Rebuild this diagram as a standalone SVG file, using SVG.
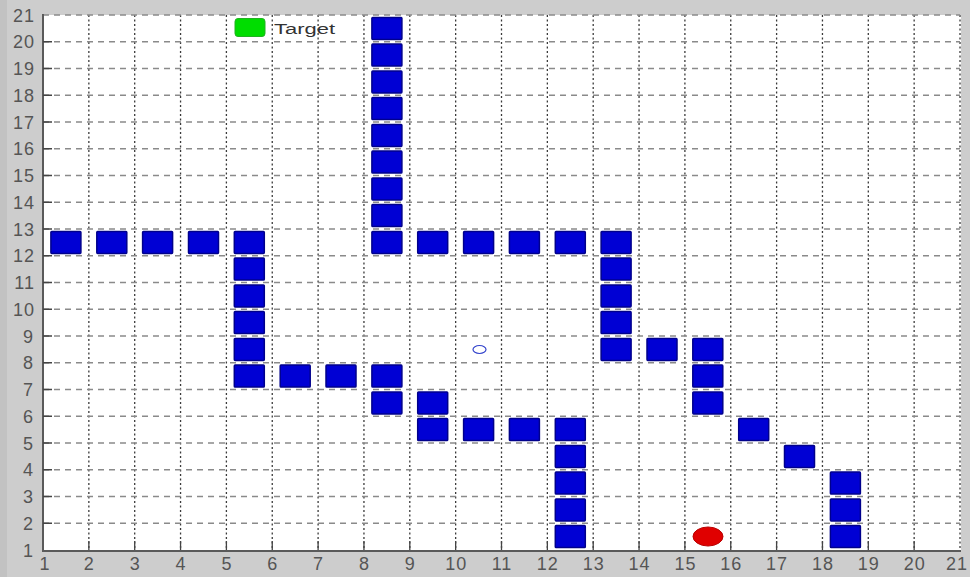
<svg xmlns="http://www.w3.org/2000/svg" width="970" height="577" viewBox="0 0 970 577">
<style>
.vg{stroke:#3a3a3a;stroke-width:1.3;stroke-dasharray:2,2.5;fill:none}
.hg{stroke:#8a8a8a;stroke-width:1.3;stroke-dasharray:6,5;fill:none}
.spine{stroke:#5a5a5a;stroke-width:2;fill:none}
.tick{stroke:#444;stroke-width:1.3}
.lbl{font-family:"Liberation Sans",Arial,sans-serif;font-size:18px;fill:#555555;letter-spacing:1px}
.xl{text-anchor:middle}
.yl{text-anchor:end}
.blk{fill:#0000d4;stroke:#00008c;stroke-width:1.5}
</style>
<defs>
<rect id="b" class="blk" x="-15" y="-11" width="30" height="22" rx="0.8"/>
</defs>
<rect x="0" y="0" width="970" height="577" fill="#cdcdcd"/>
<rect x="0" y="0" width="7" height="577" fill="#c2c2c2"/>
<rect x="43" y="15" width="918" height="535" fill="#ffffff"/>
<g id="grid">
<path class="vg" d="M88.85 15V550M134.7 15V550M180.55 15V550M226.4 15V550M272.25 15V550M318.1 15V550M363.95 15V550M409.8 15V550M455.65 15V550M501.5 15V550M547.35 15V550M593.2 15V550M639.05 15V550M684.9 15V550M730.75 15V550M776.6 15V550M822.45 15V550M868.3 15V550M914.15 15V550M960 15V550"/>
<path class="hg" d="M43 523.25H960M43 496.5H960M43 469.75H960M43 443H960M43 416.25H960M43 389.5H960M43 362.75H960M43 336H960M43 309.25H960M43 282.5H960M43 255.75H960M43 229H960M43 202.25H960M43 175.5H960M43 148.75H960M43 122H960M43 95.25H960M43 68.5H960M43 41.75H960M43 15H960"/>
</g>
<g id="axes">
<path class="spine" d="M43 14V551H961"/>
<path class="tick" d="M88.85 550v-9M134.7 550v-9M180.55 550v-9M226.4 550v-9M272.25 550v-9M318.1 550v-9M363.95 550v-9M409.8 550v-9M455.65 550v-9M501.5 550v-9M547.35 550v-9M593.2 550v-9M639.05 550v-9M684.9 550v-9M730.75 550v-9M776.6 550v-9M822.45 550v-9M868.3 550v-9M914.15 550v-9M43 523.25h9M43 496.5h9M43 469.75h9M43 443h9M43 416.25h9M43 389.5h9M43 362.75h9M43 336h9M43 309.25h9M43 282.5h9M43 255.75h9M43 229h9M43 202.25h9M43 175.5h9M43 148.75h9M43 122h9M43 95.25h9M43 68.5h9M43 41.75h9"/>
</g>
<g id="xlabels" class="lbl xl">
<text x="45" y="570">1</text><text x="89.35" y="570">2</text><text x="135.2" y="570">3</text><text x="181.05" y="570">4</text><text x="226.9" y="570">5</text><text x="272.75" y="570">6</text><text x="318.6" y="570">7</text><text x="364.45" y="570">8</text><text x="410.3" y="570">9</text><text x="456.15" y="570">10</text><text x="502" y="570">11</text><text x="547.85" y="570">12</text><text x="593.7" y="570">13</text><text x="639.55" y="570">14</text><text x="685.4" y="570">15</text><text x="731.25" y="570">16</text><text x="777.1" y="570">17</text><text x="822.95" y="570">18</text><text x="868.8" y="570">19</text><text x="914.65" y="570">20</text><text x="957" y="570">21</text>
</g>
<g id="ylabels" class="lbl yl">
<text x="34" y="556.5">1</text><text x="34" y="529.75">2</text><text x="34" y="503">3</text><text x="34" y="476.25">4</text><text x="34" y="449.5">5</text><text x="34" y="422.75">6</text><text x="34" y="396">7</text><text x="34" y="369.25">8</text><text x="34" y="342.5">9</text><text x="35" y="315.75">10</text><text x="35" y="289">11</text><text x="35" y="262.25">12</text><text x="35" y="235.5">13</text><text x="35" y="208.75">14</text><text x="35" y="182">15</text><text x="35" y="155.25">16</text><text x="35" y="128.5">17</text><text x="35" y="101.75">18</text><text x="35" y="75">19</text><text x="35" y="48.25">20</text><text x="35" y="21.5">21</text>
</g>
<g id="obstacles">
<use href="#b" x="65.9" y="242.4"/><use href="#b" x="111.8" y="242.4"/><use href="#b" x="157.6" y="242.4"/><use href="#b" x="203.5" y="242.4"/><use href="#b" x="249.3" y="242.4"/>
<use href="#b" x="249.3" y="269.1"/><use href="#b" x="249.3" y="295.9"/><use href="#b" x="249.3" y="322.6"/><use href="#b" x="249.3" y="349.4"/><use href="#b" x="249.3" y="376.1"/>
<use href="#b" x="295.2" y="376.1"/><use href="#b" x="341.0" y="376.1"/><use href="#b" x="386.9" y="376.1"/><use href="#b" x="386.9" y="402.9"/>
<use href="#b" x="386.9" y="28.4"/><use href="#b" x="386.9" y="55.1"/><use href="#b" x="386.9" y="81.9"/><use href="#b" x="386.9" y="108.6"/><use href="#b" x="386.9" y="135.4"/><use href="#b" x="386.9" y="162.1"/><use href="#b" x="386.9" y="188.9"/><use href="#b" x="386.9" y="215.6"/><use href="#b" x="386.9" y="242.4"/>
<use href="#b" x="432.7" y="242.4"/><use href="#b" x="478.6" y="242.4"/><use href="#b" x="524.4" y="242.4"/><use href="#b" x="570.3" y="242.4"/><use href="#b" x="616.1" y="242.4"/>
<use href="#b" x="616.1" y="269.1"/><use href="#b" x="616.1" y="295.9"/><use href="#b" x="616.1" y="322.6"/><use href="#b" x="616.1" y="349.4"/>
<use href="#b" x="662.0" y="349.4"/><use href="#b" x="707.8" y="349.4"/><use href="#b" x="707.8" y="376.1"/><use href="#b" x="707.8" y="402.9"/>
<use href="#b" x="753.7" y="429.6"/><use href="#b" x="799.5" y="456.4"/><use href="#b" x="845.4" y="483.1"/><use href="#b" x="845.4" y="509.9"/><use href="#b" x="845.4" y="536.6"/>
<use href="#b" x="432.7" y="402.9"/><use href="#b" x="432.7" y="429.6"/><use href="#b" x="478.6" y="429.6"/><use href="#b" x="524.4" y="429.6"/><use href="#b" x="570.3" y="429.6"/>
<use href="#b" x="570.3" y="456.4"/><use href="#b" x="570.3" y="483.1"/><use href="#b" x="570.3" y="509.9"/><use href="#b" x="570.3" y="536.6"/>
</g>
<g id="legend">
<rect x="235" y="18.5" width="30" height="18" rx="3" fill="#00dd00" stroke="#22b022" stroke-width="1"/>
<text x="274" y="34" font-family="'Liberation Sans',Arial,sans-serif" font-size="14" fill="#333" textLength="61" lengthAdjust="spacingAndGlyphs">Target</text>
</g>
<g id="robot">
<ellipse cx="708" cy="536.5" rx="15" ry="9.5" fill="#e00000" stroke="#b80000" stroke-width="1"/>
</g>
<g id="waypoint">
<ellipse cx="479.5" cy="349.5" rx="6.5" ry="4" fill="none" stroke="#3344cc" stroke-width="1.2"/>
</g>
</svg>
